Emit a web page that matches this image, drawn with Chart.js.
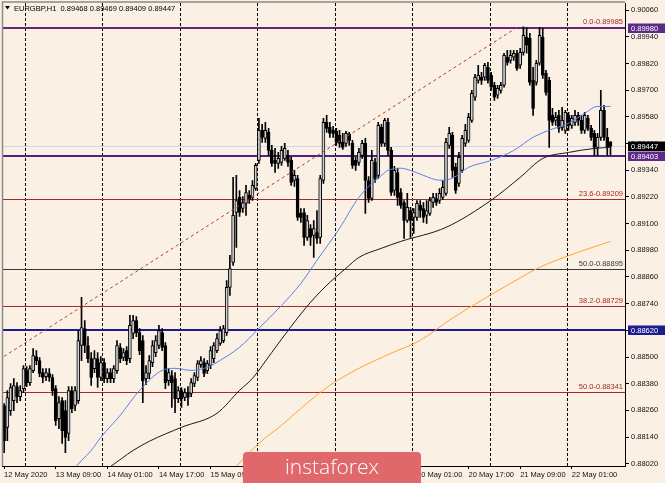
<!DOCTYPE html>
<html>
<head>
<meta charset="utf-8">
<title>EURGBP,H1</title>
<script src="https://cdn.jsdelivr.net/npm/chart.js@4.4.0/dist/chart.umd.min.js"></script>
<style>
  html, body { margin: 0; padding: 0; background: #faf0e4; }
  #wrap { width: 665px; height: 483px; }
</style>
</head>
<body>
<div id="wrap"><canvas id="chart" width="665" height="483"></canvas></div>
<script>
(function () {
  'use strict';

  const FONT = '"Liberation Sans", Arial, sans-serif';
  const TITLE = 'EURGBP,H1  0.89468 0.89469 0.89409 0.89447';
  const SLOT_COUNT = 193; // bar slots across the chart (last ones empty, chart shift)
  const Y_MIN = 0.8801;
  const Y_MAX = 0.90092;

  // hourly candles, 12 May 17:00 .. 22 May 12:00
  const opens = [
    0.88282, 0.88183, 0.88259, 0.88304, 0.88367, 0.88322, 0.88358, 0.88439, 0.88385, 0.88439,
    0.88502, 0.88484, 0.88430, 0.88412, 0.88426, 0.88408, 0.88358, 0.88223, 0.88304, 0.88259,
    0.88156, 0.88349, 0.88282, 0.88304, 0.88552, 0.88628, 0.88552, 0.88493, 0.88448, 0.88493,
    0.88408, 0.88475, 0.88403, 0.88430, 0.88403, 0.88439, 0.88543, 0.88498, 0.88529, 0.88493,
    0.88606, 0.88664, 0.88610, 0.88574, 0.88403, 0.88426, 0.88475, 0.88520, 0.88552, 0.88610,
    0.88552, 0.88394, 0.88417, 0.88403, 0.88313, 0.88349, 0.88318, 0.88340, 0.88336, 0.88381,
    0.88408, 0.88466, 0.88475, 0.88439, 0.88462, 0.88493, 0.88529, 0.88561, 0.88574, 0.88610,
    0.88813, 0.88925, 0.89150, 0.89218, 0.89168, 0.89191, 0.89227, 0.89218, 0.89258, 0.89384,
    0.89519, 0.89483, 0.89510, 0.89429, 0.89384, 0.89371, 0.89375, 0.89393, 0.89407, 0.89384,
    0.89294, 0.89303, 0.89146, 0.89150, 0.89038, 0.89078, 0.89047, 0.89060, 0.89038, 0.89294,
    0.89555, 0.89533, 0.89519, 0.89515, 0.89497, 0.89465, 0.89461, 0.89501, 0.89461, 0.89384,
    0.89375, 0.89407, 0.89461, 0.89294, 0.89213, 0.89375, 0.89317, 0.89533, 0.89461, 0.89555,
    0.89429, 0.89249, 0.89330, 0.89240, 0.89195, 0.89114, 0.89159, 0.89128, 0.89128, 0.89182,
    0.89168, 0.89137, 0.89146, 0.89195, 0.89213, 0.89204, 0.89218, 0.89236, 0.89452, 0.89497,
    0.89353, 0.89281, 0.89339, 0.89461, 0.89474, 0.89564, 0.89668, 0.89744, 0.89758, 0.89758,
    0.89803, 0.89767, 0.89722, 0.89677, 0.89699, 0.89722, 0.89848, 0.89834, 0.89848, 0.89866,
    0.89812, 0.89870, 0.89938, 0.89933, 0.89744, 0.89735, 0.89821, 0.89938, 0.89776, 0.89744,
    0.89587, 0.89564, 0.89587, 0.89533, 0.89519, 0.89587, 0.89542, 0.89555, 0.89587, 0.89564,
    0.89519, 0.89573, 0.89528, 0.89506, 0.89443, 0.89488, 0.89609, 0.89488, 0.89468,
  ];
  const highs = [
    0.88291, 0.88349, 0.88381, 0.88403, 0.88385, 0.88372, 0.88462, 0.88457, 0.88462, 0.88538,
    0.88529, 0.88498, 0.88448, 0.88448, 0.88448, 0.88421, 0.88372, 0.88322, 0.88318, 0.88304,
    0.88367, 0.88367, 0.88367, 0.88619, 0.88768, 0.88664, 0.88592, 0.88520, 0.88529, 0.88520,
    0.88502, 0.88493, 0.88448, 0.88448, 0.88462, 0.88574, 0.88561, 0.88538, 0.88547, 0.88687,
    0.88687, 0.88682, 0.88628, 0.88597, 0.88462, 0.88507, 0.88574, 0.88597, 0.88642, 0.88628,
    0.88565, 0.88448, 0.88439, 0.88430, 0.88367, 0.88363, 0.88358, 0.88367, 0.88403, 0.88430,
    0.88484, 0.88502, 0.88493, 0.88484, 0.88547, 0.88565, 0.88606, 0.88637, 0.88642, 0.88844,
    0.88957, 0.89308, 0.89317, 0.89249, 0.89222, 0.89272, 0.89249, 0.89294, 0.89371, 0.89573,
    0.89546, 0.89555, 0.89528, 0.89452, 0.89438, 0.89420, 0.89447, 0.89461, 0.89429, 0.89398,
    0.89339, 0.89317, 0.89168, 0.89168, 0.89137, 0.89096, 0.89114, 0.89159, 0.89317, 0.89573,
    0.89587, 0.89555, 0.89537, 0.89528, 0.89519, 0.89506, 0.89515, 0.89510, 0.89474, 0.89398,
    0.89438, 0.89474, 0.89483, 0.89312, 0.89429, 0.89393, 0.89555, 0.89546, 0.89573, 0.89573,
    0.89443, 0.89357, 0.89348, 0.89258, 0.89204, 0.89236, 0.89173, 0.89168, 0.89204, 0.89204,
    0.89195, 0.89204, 0.89218, 0.89236, 0.89236, 0.89258, 0.89294, 0.89483, 0.89533, 0.89510,
    0.89371, 0.89420, 0.89497, 0.89546, 0.89596, 0.89699, 0.89771, 0.89812, 0.89780, 0.89821,
    0.89825, 0.89780, 0.89735, 0.89722, 0.89735, 0.89866, 0.89879, 0.89879, 0.89879, 0.89879,
    0.89888, 0.89985, 0.89980, 0.89956, 0.89803, 0.89834, 0.89982, 0.89978, 0.89789, 0.89758,
    0.89618, 0.89600, 0.89609, 0.89623, 0.89609, 0.89600, 0.89587, 0.89609, 0.89600, 0.89587,
    0.89600, 0.89587, 0.89542, 0.89519, 0.89506, 0.89699, 0.89632, 0.89528, 0.89469,
  ];
  const lows = [
    0.88070, 0.88124, 0.88237, 0.88259, 0.88295, 0.88304, 0.88340, 0.88367, 0.88372, 0.88430,
    0.88466, 0.88412, 0.88385, 0.88394, 0.88390, 0.88327, 0.88192, 0.88178, 0.88111, 0.88070,
    0.88124, 0.88250, 0.88259, 0.88291, 0.88484, 0.88520, 0.88475, 0.88372, 0.88430, 0.88363,
    0.88394, 0.88385, 0.88385, 0.88385, 0.88385, 0.88426, 0.88475, 0.88484, 0.88466, 0.88475,
    0.88583, 0.88592, 0.88511, 0.88295, 0.88376, 0.88403, 0.88457, 0.88502, 0.88538, 0.88529,
    0.88358, 0.88372, 0.88273, 0.88250, 0.88295, 0.88273, 0.88304, 0.88282, 0.88322, 0.88367,
    0.88394, 0.88453, 0.88412, 0.88426, 0.88448, 0.88475, 0.88520, 0.88552, 0.88565, 0.88597,
    0.88777, 0.88912, 0.88993, 0.89132, 0.89150, 0.89137, 0.89191, 0.89204, 0.89249, 0.89371,
    0.89465, 0.89465, 0.89407, 0.89357, 0.89330, 0.89348, 0.89362, 0.89384, 0.89357, 0.89272,
    0.89267, 0.89114, 0.89105, 0.89002, 0.89024, 0.89002, 0.88948, 0.89011, 0.89011, 0.89281,
    0.89510, 0.89488, 0.89488, 0.89452, 0.89443, 0.89434, 0.89447, 0.89452, 0.89348, 0.89339,
    0.89362, 0.89393, 0.89146, 0.89195, 0.89204, 0.89285, 0.89303, 0.89447, 0.89447, 0.89407,
    0.89227, 0.89227, 0.89182, 0.89168, 0.89033, 0.89105, 0.89038, 0.89056, 0.89114, 0.89128,
    0.89105, 0.89101, 0.89137, 0.89173, 0.89182, 0.89191, 0.89209, 0.89227, 0.89438, 0.89308,
    0.89236, 0.89267, 0.89330, 0.89447, 0.89465, 0.89555, 0.89654, 0.89731, 0.89726, 0.89744,
    0.89731, 0.89699, 0.89654, 0.89663, 0.89686, 0.89713, 0.89812, 0.89821, 0.89834, 0.89789,
    0.89798, 0.89857, 0.89866, 0.89722, 0.89587, 0.89722, 0.89812, 0.89753, 0.89677, 0.89443,
    0.89542, 0.89542, 0.89510, 0.89519, 0.89506, 0.89519, 0.89528, 0.89542, 0.89542, 0.89506,
    0.89506, 0.89519, 0.89474, 0.89407, 0.89407, 0.89474, 0.89474, 0.89407, 0.89409,
  ];
  const closes = [
    0.88124, 0.88318, 0.88363, 0.88372, 0.88322, 0.88349, 0.88448, 0.88385, 0.88448, 0.88507,
    0.88484, 0.88426, 0.88408, 0.88430, 0.88408, 0.88349, 0.88214, 0.88295, 0.88169, 0.88138,
    0.88349, 0.88268, 0.88349, 0.88574, 0.88633, 0.88552, 0.88493, 0.88408, 0.88493, 0.88408,
    0.88475, 0.88403, 0.88430, 0.88403, 0.88448, 0.88552, 0.88493, 0.88520, 0.88484, 0.88642,
    0.88664, 0.88610, 0.88529, 0.88394, 0.88430, 0.88484, 0.88552, 0.88574, 0.88619, 0.88543,
    0.88385, 0.88430, 0.88385, 0.88313, 0.88349, 0.88313, 0.88340, 0.88318, 0.88385, 0.88417,
    0.88471, 0.88484, 0.88426, 0.88471, 0.88529, 0.88552, 0.88583, 0.88619, 0.88628, 0.88813,
    0.88898, 0.89137, 0.89204, 0.89150, 0.89195, 0.89240, 0.89209, 0.89272, 0.89362, 0.89519,
    0.89488, 0.89519, 0.89429, 0.89371, 0.89371, 0.89393, 0.89429, 0.89438, 0.89375, 0.89285,
    0.89317, 0.89128, 0.89128, 0.89038, 0.89114, 0.89038, 0.89078, 0.89033, 0.89303, 0.89555,
    0.89528, 0.89506, 0.89506, 0.89465, 0.89461, 0.89443, 0.89506, 0.89474, 0.89362, 0.89362,
    0.89420, 0.89461, 0.89294, 0.89213, 0.89384, 0.89303, 0.89542, 0.89461, 0.89564, 0.89429,
    0.89240, 0.89339, 0.89218, 0.89182, 0.89114, 0.89173, 0.89114, 0.89150, 0.89191, 0.89159,
    0.89128, 0.89159, 0.89204, 0.89218, 0.89195, 0.89236, 0.89263, 0.89465, 0.89506, 0.89339,
    0.89249, 0.89398, 0.89483, 0.89519, 0.89578, 0.89686, 0.89758, 0.89767, 0.89744, 0.89812,
    0.89744, 0.89713, 0.89668, 0.89708, 0.89722, 0.89857, 0.89825, 0.89857, 0.89866, 0.89798,
    0.89870, 0.89947, 0.89902, 0.89735, 0.89618, 0.89821, 0.89947, 0.89767, 0.89690, 0.89564,
    0.89555, 0.89578, 0.89528, 0.89564, 0.89600, 0.89542, 0.89573, 0.89587, 0.89564, 0.89519,
    0.89587, 0.89528, 0.89488, 0.89443, 0.89488, 0.89609, 0.89488, 0.89443, 0.89447,
  ];

  // moving averages: [bar slot, price]
  const maBlue = [
    [20, 0.8797], [24, 0.88035], [27, 0.8808], [30, 0.88139], [36, 0.88238], [42, 0.8835],
    [49, 0.8844], [53, 0.88449], [58, 0.8844], [63, 0.88454], [67, 0.88485], [73, 0.88544],
    [79, 0.88629], [86, 0.88732], [92, 0.88831], [97, 0.88935], [104, 0.89079], [110, 0.89218],
    [117, 0.89317], [119, 0.89339], [123, 0.89349], [126, 0.89339], [130, 0.89317], [135, 0.89295],
    [139, 0.89304], [144, 0.89353], [151, 0.89384], [158, 0.89429], [164, 0.89488], [169, 0.8952],
    [175, 0.89551], [180, 0.89596], [184, 0.89627], [188, 0.89627],
  ];
  const maBlack = [
    [31, 0.8799], [33, 0.88008], [40, 0.8808], [45, 0.88121], [55, 0.88184], [66, 0.88247],
    [73, 0.8835], [77, 0.88404], [83, 0.88521], [89, 0.88638], [95, 0.88746], [101, 0.88836],
    [106, 0.88899], [110, 0.88948], [117, 0.88989], [123, 0.8902], [137, 0.89083], [151, 0.89205],
    [160, 0.89308], [167, 0.89393], [175, 0.8942], [183, 0.89438], [188, 0.89443],
  ];
  const maOrange = [
    [70, 0.87968], [72, 0.88008], [79, 0.88112], [86, 0.88193], [92, 0.88269], [101, 0.88373],
    [110, 0.88449], [120, 0.88517], [129, 0.88575], [138, 0.88665], [148, 0.88755], [157, 0.88831],
    [166, 0.88903], [177, 0.88966], [188, 0.8902],
  ];
  const trendLine = [[0, 0.88503], [159, 0.89982]];

  const fibTags = ['0.0', '23.6', '50.0', '38.2', '50.0'];
  const fibPrices = [0.89985, 0.89209, 0.88895, 0.88729, 0.88341];
  const markedPrices = [0.8998, 0.89403, 0.8862];
  const bidPrice = 0.89447;

  const yTicks = [
    0.9006, 0.8994, 0.8982, 0.897, 0.8958, 0.8946, 0.8934, 0.8922, 0.891,
    0.8898, 0.8886, 0.8874, 0.8862, 0.885, 0.8838, 0.8826, 0.8814, 0.8802,
  ];
  const xTickSlots = [0, 16, 32, 48, 64, 80, 96, 112, 128, 144, 160, 176];
  const xTickText = [
    '12 May 2020', '13 May 09:00', '14 May 01:00', '14 May 17:00', '15 May 09:00', '18 May 01:00',
    '18 May 17:00', '19 May 09:00', '20 May 01:00', '20 May 17:00', '21 May 09:00', '22 May 01:00',
  ];
  const dayStartSlots = [7, 31, 55, 79, 103, 127, 151, 175];

  const FIB_COLORS = ['#a52a2a', '#a52a2a', '#3a3a3a', '#a52a2a', '#a52a2a'];
  const MARK_LINE = ['#6e2474', '#4f2380', '#1c1c90'];
  const MARK_BOX = ['#5e2a88', '#5e2a88', '#1c1c90'];
  const BULL_FILL = '#d2d2d2';

  const slots = Array.from({ length: SLOT_COUNT }, (_, i) => i);
  const wicks = lows.map((l, i) => [l, highs[i]]);
  const bodies = opens.map((o, i) => [o, closes[i]]);
  const toXY = (pts) => pts.map(([x, y]) => ({ x, y }));

  function maLine(pts, color) {
    return {
      type: 'line',
      data: toXY(pts),
      borderColor: color,
      borderWidth: 1,
      pointRadius: 0,
      cubicInterpolationMode: 'monotone',
      order: 0,
    };
  }

  const overlay = {
    id: 'overlay',
    beforeDraw(chart) {
      const { ctx, width, height } = chart;
      ctx.save();
      ctx.fillStyle = '#faf0e4';
      ctx.fillRect(0, 0, width, height);
      ctx.restore();
    },
    beforeDatasetsDraw(chart) {
      const { ctx, chartArea: a, scales: { x, y } } = chart;
      const half = (x.getPixelForValue(1) - x.getPixelForValue(0)) / 2;
      ctx.save();
      ctx.beginPath();
      ctx.rect(a.left, a.top, a.right - a.left, a.bottom - a.top);
      ctx.clip();

      ctx.lineWidth = 1;
      ctx.strokeStyle = '#000';
      ctx.setLineDash([3, 2]);
      dayStartSlots.forEach((i) => {
        const px = Math.round(x.getPixelForValue(i) - half) + 0.5;
        ctx.beginPath();
        ctx.moveTo(px, a.top);
        ctx.lineTo(px, a.bottom);
        ctx.stroke();
      });
      ctx.setLineDash([]);

      const hline = (p, color, w) => {
        const py = Math.round(y.getPixelForValue(p)) + (w % 2 ? 0.5 : 0);
        ctx.strokeStyle = color;
        ctx.lineWidth = w;
        ctx.beginPath();
        ctx.moveTo(a.left, py);
        ctx.lineTo(a.right, py);
        ctx.stroke();
      };
      hline(bidPrice, '#d4d4ec', 1);
      fibPrices.forEach((p, k) => hline(p, FIB_COLORS[k], 1));
      markedPrices.forEach((p, k) => hline(p, MARK_LINE[k], 2));

      ctx.font = '7.5px ' + FONT;
      ctx.textAlign = 'right';
      ctx.textBaseline = 'bottom';
      fibPrices.forEach((p, k) => {
        ctx.fillStyle = FIB_COLORS[k];
        ctx.fillText(fibTags[k] + '-' + p.toFixed(5), a.right - 2, Math.round(y.getPixelForValue(p)) - 1);
      });
      ctx.restore();
    },
    afterDraw(chart) {
      const { ctx, chartArea: a, scales: { y } } = chart;
      ctx.save();

      // frame
      ctx.strokeStyle = '#8a8a8a';
      ctx.lineWidth = 1.5;
      ctx.beginPath();
      ctx.moveTo(a.left, a.bottom);
      ctx.lineTo(a.left, a.top - 1);
      ctx.lineTo(a.right, a.top - 1);
      ctx.stroke();

      // price boxes on the axis
      ctx.font = '7.5px ' + FONT;
      ctx.textAlign = 'left';
      ctx.textBaseline = 'middle';
      const box = (p, bg) => {
        const py = Math.round(y.getPixelForValue(p));
        ctx.fillStyle = bg;
        ctx.fillRect(a.right + 3, py - 4.5, 37, 9.5);
        ctx.fillStyle = '#fff';
        ctx.fillText(p.toFixed(5), a.right + 6, py + 0.5);
      };
      markedPrices.forEach((p, k) => box(p, MARK_BOX[k]));
      box(bidPrice, '#000');

      // header
      ctx.fillStyle = '#000';
      ctx.beginPath();
      ctx.moveTo(5, 6);
      ctx.lineTo(10, 6);
      ctx.lineTo(7.5, 9.5);
      ctx.closePath();
      ctx.fill();
      ctx.fillText(TITLE, 14, 8.5);

      // watermark
      const lx = 243, ly = 452, lw = 178, lh = 36, r = 4;
      ctx.fillStyle = '#e0686b';
      ctx.beginPath();
      ctx.moveTo(lx + r, ly);
      ctx.lineTo(lx + lw - r, ly);
      ctx.quadraticCurveTo(lx + lw, ly, lx + lw, ly + r);
      ctx.lineTo(lx + lw, ly + lh);
      ctx.lineTo(lx, ly + lh);
      ctx.lineTo(lx, ly + r);
      ctx.quadraticCurveTo(lx, ly, lx + r, ly);
      ctx.fill();
      ctx.fillStyle = '#fff';
      ctx.font = '300 21px "Open Sans", ' + FONT;
      ctx.textAlign = 'center';
      ctx.fillText('instaforex', lx + lw / 2, ly + 16);
      ctx.restore();
    },
  };

  new Chart(document.getElementById('chart'), {
    type: 'bar',
    data: {
      labels: slots,
      datasets: [
        maLine(maBlue, '#5b82e8'),
        maLine(maBlack, '#1a1a1a'),
        maLine(maOrange, '#ffa530'),
        {
          type: 'line',
          data: toXY(trendLine),
          borderColor: '#b23c3c',
          borderWidth: 1,
          borderDash: [3, 3],
          pointRadius: 0,
          order: 0,
        },
        {
          data: bodies,
          grouped: false,
          barThickness: 3,
          borderWidth: 1,
          borderColor: '#000',
          borderSkipped: false,
          backgroundColor: (c) => (closes[c.dataIndex] >= opens[c.dataIndex] ? BULL_FILL : '#000'),
          order: 1,
        },
        {
          data: wicks,
          grouped: false,
          barThickness: 1,
          borderWidth: 0,
          backgroundColor: '#000',
          order: 2,
        },
      ],
    },
    options: {
      responsive: false,
      animation: false,
      devicePixelRatio: 1,
      layout: { padding: { left: 2.5, top: 3, right: 0, bottom: 0 } },
      plugins: { legend: { display: false }, tooltip: { enabled: false } },
      scales: {
        x: {
          type: 'category',
          offset: true,
          afterFit: (s) => {
            s.height = 17;
            s.paddingLeft = 0;
            s.paddingRight = 0;
          },
          grid: { drawOnChartArea: false, offset: false, tickLength: 3, color: '#000' },
          border: { color: '#000' },
          ticks: {
            autoSkip: false,
            maxRotation: 0,
            align: 'start',
            padding: 1,
            color: '#111',
            font: { family: FONT, size: 7.5 },
            callback: (v, i) => {
              const k = xTickSlots.indexOf(i);
              return k >= 0 ? xTickText[k] : null;
            },
          },
        },
        y: {
          position: 'right',
          min: Y_MIN,
          max: Y_MAX,
          afterBuildTicks: (s) => {
            s.ticks = yTicks.map((v) => ({ value: v }));
          },
          afterFit: (s) => {
            s.width = 40;
            s.paddingTop = 0;
            s.paddingBottom = 0;
          },
          grid: { drawOnChartArea: false, tickLength: 4, color: '#000' },
          border: { color: '#000' },
          ticks: {
            padding: 2,
            color: '#111',
            font: { family: FONT, size: 7.5 },
            callback: (v) => Number(v).toFixed(5),
          },
        },
      },
    },
    plugins: [overlay],
  });
})();
</script>
</body>
</html>
